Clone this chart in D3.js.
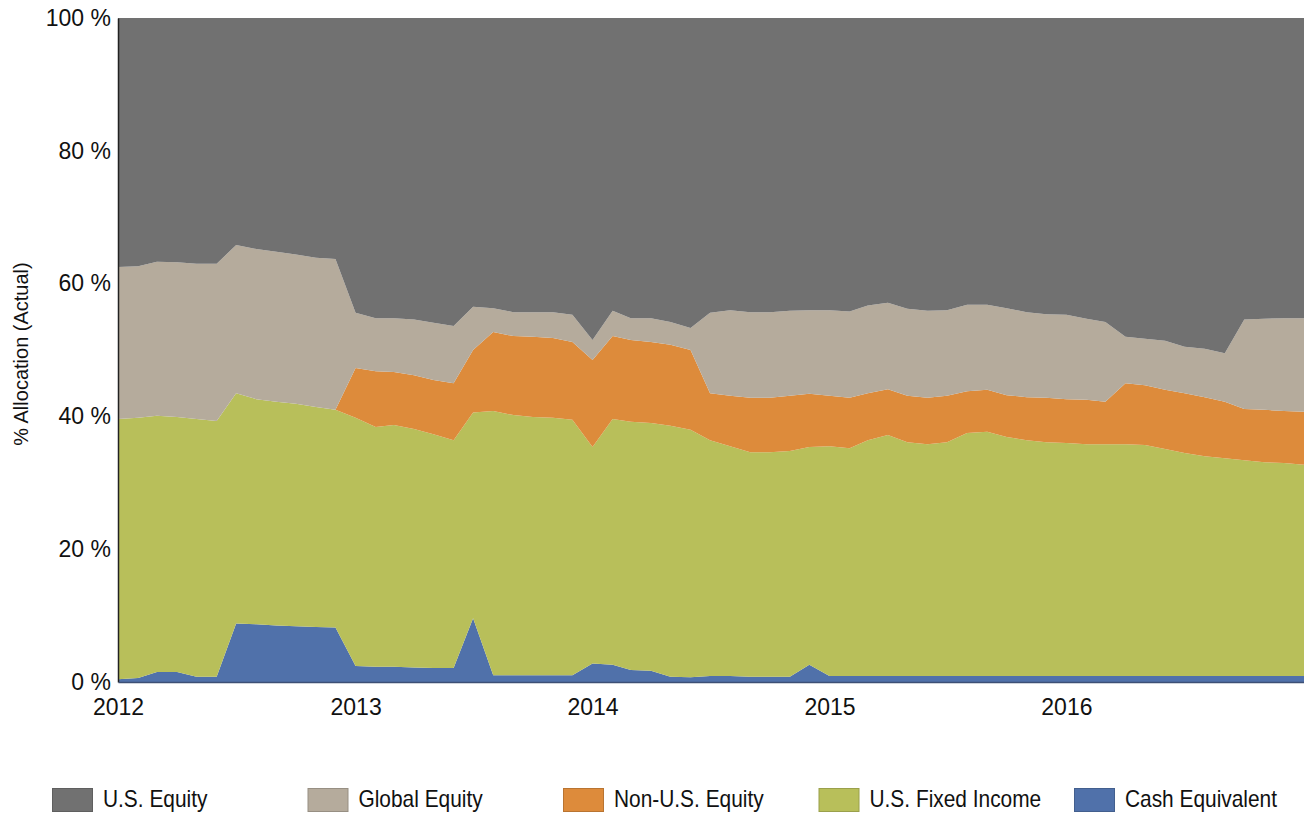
<!DOCTYPE html>
<html>
<head>
<meta charset="utf-8">
<script src="https://cdn.jsdelivr.net/npm/d3@7"></script>
<style>
  html, body { margin: 0; padding: 0; background: #ffffff; }
  svg { display: block; }
  .axis text { font-family: "Liberation Sans", Arial, sans-serif; fill: #111; }
</style>
</head>
<body>
<svg id="chart" width="1304" height="814"></svg>
<script>
// Monthly allocation (% of portfolio), Jan 2012 – Jan 2017
const firstMonth = new Date(2012, 0, 1);
const lastMonth = new Date(2017, 0, 1);

const seriesNames = ["U.S. Equity", "Global Equity", "Non-U.S. Equity", "U.S. Fixed Income", "Cash Equivalent"];

const usEquity = [
  37.5, 37.4, 36.7, 36.8, 37.0, 37.0, 34.2, 34.8, 35.2, 35.6, 36.1, 36.3,
  44.4, 45.2, 45.2, 45.4, 45.9, 46.4, 43.5, 43.7, 44.3, 44.3, 44.3, 44.7,
  48.5, 44.1, 45.2, 45.2, 45.8, 46.7, 44.4, 44.0, 44.3, 44.3, 44.1, 44.0,
  44.0, 44.2, 43.3, 42.9, 43.8, 44.1, 44.0, 43.2, 43.2, 43.7, 44.3, 44.6,
  44.7, 45.3, 45.8, 48.0, 48.3, 48.6, 49.5, 49.8, 50.5, 45.4, 45.3, 45.2,
  45.2
];
const globalEquity = [
  22.9, 22.8, 23.2, 23.3, 23.4, 23.7, 22.3, 22.6, 22.6, 22.5, 22.5, 22.7,
   8.3,  8.0,  8.1,  8.4,  8.6,  8.6,  6.5,  3.6,  3.6,  3.7,  3.9,  4.1,
   3.0,  3.8,  3.3,  3.6,  3.4,  3.3, 12.1, 12.9, 12.9, 12.9, 12.8, 12.6,
  12.9, 13.0, 13.2, 13.0, 13.1, 13.1, 12.9, 13.0, 12.8, 13.1, 12.8, 12.6,
  12.7, 12.2, 12.0,  7.0,  7.0,  7.4,  7.0,  7.3,  7.3, 13.5, 13.7, 14.0,
  14.1
];
const nonUsEquity = [
   0.0,  0.0,  0.0,  0.0,  0.0,  0.0,  0.0,  0.0,  0.0,  0.0,  0.0,  0.0,
   7.5,  8.4,  8.0,  8.1,  8.2,  8.6,  9.4, 11.9, 11.9, 12.1, 12.0, 11.7,
  13.1, 12.5, 12.3, 12.2, 12.2, 12.0,  7.1,  7.6,  8.2,  8.2,  8.3,  8.0,
   7.6,  7.6,  7.1,  6.9,  7.0,  7.0,  7.0,  6.3,  6.3,  6.3,  6.5,  6.7,
   6.6,  6.7,  6.4,  9.2,  9.0,  8.9,  9.0,  8.9,  8.5,  7.7,  7.9,  7.8,
   8.0
];
const usFixedIncome = [
  39.2, 39.2, 38.6, 38.4, 38.8, 38.5, 34.7, 33.9, 33.7, 33.5, 33.1, 32.8,
  37.4, 36.1, 36.4, 35.9, 35.2, 34.3, 31.0, 39.8, 39.2, 38.9, 38.8, 38.5,
  32.6, 37.0, 37.4, 37.3, 37.8, 37.3, 35.5, 34.6, 33.8, 33.8, 34.0, 32.8,
  34.6, 34.3, 35.5, 36.3, 35.2, 34.9, 35.2, 36.6, 36.8, 36.0, 35.5, 35.2,
  35.1, 34.9, 34.9, 34.9, 34.8, 34.2, 33.6, 33.1, 32.8, 32.5, 32.2, 32.1,
  31.8
];
const cashEquivalent = [
   0.4,  0.6,  1.5,  1.5,  0.8,  0.8,  8.8,  8.7,  8.5,  8.4,  8.3,  8.2,
   2.4,  2.3,  2.3,  2.2,  2.1,  2.1,  9.6,  1.0,  1.0,  1.0,  1.0,  1.0,
   2.8,  2.6,  1.8,  1.7,  0.8,  0.7,  0.9,  0.9,  0.8,  0.8,  0.8,  2.6,
   0.9,  0.9,  0.9,  0.9,  0.9,  0.9,  0.9,  0.9,  0.9,  0.9,  0.9,  0.9,
   0.9,  0.9,  0.9,  0.9,  0.9,  0.9,  0.9,  0.9,  0.9,  0.9,  0.9,  0.9,
   0.9
];

const yTickValues = [0, 20, 40, 60, 80, 100];
const xTickYears = [2012, 2013, 2014, 2015, 2016];

const colors = {
  "U.S. Equity": "#717171",
  "Global Equity": "#b5ab9c",
  "Non-U.S. Equity": "#dd8b3b",
  "U.S. Fixed Income": "#b8bf5a",
  "Cash Equivalent": "#5071aa"
};

const months = d3.timeMonth.range(firstMonth, d3.timeMonth.offset(lastMonth, 1));
const rows = months.map((m, i) => ({
  date: m,
  "U.S. Equity": usEquity[i],
  "Global Equity": globalEquity[i],
  "Non-U.S. Equity": nonUsEquity[i],
  "U.S. Fixed Income": usFixedIncome[i],
  "Cash Equivalent": cashEquivalent[i]
}));

const margin = { top: 18, right: 0, bottom: 132, left: 118 };
const W = 1304, H = 814;
const innerW = W - margin.left - margin.right;
const innerH = H - margin.top - margin.bottom;

const svg = d3.select("#chart");
const g = svg.append("g").attr("transform", `translate(${margin.left},${margin.top})`);

const x = d3.scaleTime().domain([firstMonth, lastMonth]).range([0, innerW]);
const y = d3.scaleLinear().domain([0, 100]).range([innerH, 0]);

// bottom-up stacking order: cash, fixed income, non-U.S., global, U.S.
const stackOrder = seriesNames.slice().reverse();
const stacked = d3.stack().keys(stackOrder)(rows);

const area = d3.area()
  .x(d => x(d.data.date))
  .y0(d => y(d[0]))
  .y1(d => y(d[1]));

g.selectAll("path.layer")
  .data(stacked)
  .join("path")
  .attr("class", "layer")
  .attr("fill", d => colors[d.key])
  .attr("d", area);

// axes
const yAxis = d3.axisLeft(y)
  .tickValues(yTickValues)
  .tickFormat(d => d + " %")
  .tickSize(0)
  .tickPadding(7);
const yG = g.append("g").attr("class", "axis").call(yAxis);
yG.select(".domain").attr("stroke", "#222").attr("stroke-width", 1.5);
yG.selectAll("text").attr("font-size", 23);

const xAxis = d3.axisBottom(x)
  .tickValues(xTickYears.map(yr => new Date(yr, 0, 1)))
  .tickFormat(d3.timeFormat("%Y"))
  .tickSize(0)
  .tickPadding(17);
const xG = g.append("g").attr("class", "axis").attr("transform", `translate(0,${innerH})`).call(xAxis);
xG.select(".domain").attr("stroke", "#3d4f75").attr("stroke-width", 1.5);
xG.selectAll("text").attr("font-size", 23);

// y-axis title
svg.append("text")
  .attr("transform", `translate(28,${margin.top + innerH / 2 + 4}) rotate(-90)`)
  .attr("text-anchor", "middle")
  .attr("font-family", "'Liberation Sans', Arial, sans-serif")
  .attr("font-size", 20)
  .attr("fill", "#111")
  .text("% Allocation (Actual)");

// legend: swatch + condensed label per series
const legend = svg.append("g").attr("transform", "translate(52,788)");
const legendItems = legend.selectAll("g")
  .data(seriesNames)
  .join("g")
  .attr("transform", (d, i) => `translate(${i * 255.5},0)`);
legendItems.append("rect")
  .attr("x", 0.5)
  .attr("y", 0.5)
  .attr("width", 40)
  .attr("height", 23)
  .attr("fill", d => colors[d])
  .attr("stroke", d => d3.color(colors[d]).darker(0.5))
  .attr("stroke-width", 1);
legendItems.append("text")
  .attr("transform", "translate(51,19) scale(0.87,1)")
  .attr("font-family", "'Liberation Sans', Arial, sans-serif")
  .attr("font-size", 24)
  .attr("fill", "#111")
  .text(d => d);
</script>
</body>
</html>
